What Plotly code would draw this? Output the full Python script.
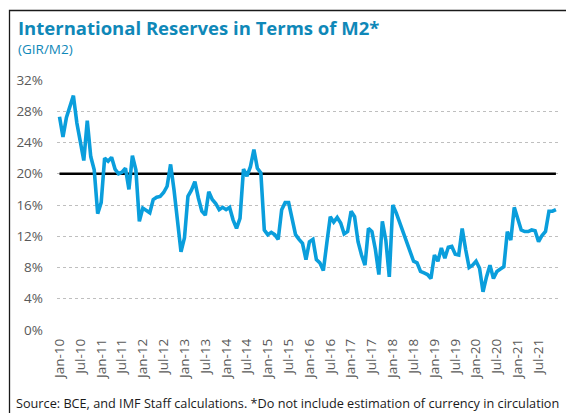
import plotly.graph_objects as go

# Monthly data Jan-2010 .. Dec-2021 (GIR/M2, %)
years = list(range(2010, 2022))
month_names = ["Jan", "Feb", "Mar", "Apr", "May", "Jun", "Jul", "Aug", "Sep", "Oct", "Nov", "Dec"]
gir_m2 = [
    27.3, 24.7, 27.2, 28.8, 30.0, 26.5, 24.2, 21.7, 26.8, 22.2, 20.5, 14.9,
    16.3, 22.0, 21.6, 22.1, 20.6, 20.0, 20.2, 20.7, 18.0, 22.3, 20.5, 13.9,
    15.6, 15.3, 15.0, 16.7, 17.0, 17.1, 17.6, 18.4, 21.2, 17.9, 14.1, 10.0,
    11.8, 17.1, 17.9, 19.0, 16.9, 15.2, 14.7, 17.7, 16.7, 16.2, 15.4, 15.7,
    15.4, 15.7, 14.1, 13.0, 14.3, 20.6, 19.7, 20.9, 23.1, 20.7, 20.1, 12.8,
    12.2, 12.5, 12.2, 11.6, 15.4, 16.3, 16.3, 14.1, 12.2, 11.6, 11.1, 9.0,
    11.3, 11.6, 9.0, 8.6, 7.6, 11.1, 14.5, 13.8, 14.4, 13.7, 12.3, 12.6,
    15.2, 14.5, 11.3, 9.6, 8.3, 13.0, 12.6, 10.3, 7.1, 13.9, 11.5, 6.8,
    16.0, 15.0, 13.7, 12.4, 11.1, 9.8, 8.8, 8.6, 7.5, 7.3, 7.1, 6.6,
    9.6, 8.8, 10.5, 9.2, 10.6, 10.7, 9.7, 9.6, 13.0, 10.3, 8.0, 8.3,
    8.8, 7.9, 4.9, 6.8, 8.3, 6.6, 7.5, 7.8, 8.1, 12.6, 11.5, 15.7,
    14.3, 12.8, 12.6, 12.6, 12.8, 12.7, 11.3, 12.1, 12.6, 15.2, 15.2, 15.4,
]
threshold = [20.0] * len(gir_m2)
y_ticks = [0, 4, 8, 12, 16, 20, 24, 28, 32]

months = [f"{m}-{str(y)[2:]}" for y in years for m in month_names]
x_idx = list(range(len(months)))
tick_idx = [i for i in x_idx if months[i].startswith(("Jan", "Jul"))]
tick_text = [months[i] for i in tick_idx]

BLUE = "#0F88B8"
LINE = "#0A9EDC"
FONT = "Open Sans"

fig = go.Figure()
fig.add_trace(go.Scatter(x=x_idx, y=threshold, mode="lines",
                         line=dict(color="#000000", width=2.4), hoverinfo="skip"))
fig.add_trace(go.Scatter(x=x_idx, y=gir_m2, mode="lines",
                         line=dict(color=LINE, width=3.6)))

L, R, T, B = 57, 8, 80, 83
W, H = 566, 413
pw, ph = W - L - R, H - T - B


def px(x):
    return (x - L) / pw


def py(y):
    return (H - B - y) / ph


fig.update_layout(
    width=W, height=H,
    margin=dict(l=L, r=R, t=T, b=B),
    paper_bgcolor="white", plot_bgcolor="white",
    showlegend=False,
    font=dict(family=FONT, color="#595959", size=12),
    xaxis=dict(range=[-0.72, 143.6], tickmode="array", tickvals=tick_idx, ticktext=tick_text,
               tickangle=-90, showgrid=False, zeroline=False, showline=False, ticks="",
               tickfont=dict(size=13.5, color="#595959", family=FONT), ticklabelstandoff=5),
    yaxis=dict(range=[0, 32], tickmode="array", tickvals=y_ticks,
               ticktext=[f"{v}%" for v in y_ticks],
               showgrid=True, gridcolor="#BFBFBF", griddash="dot", gridwidth=1,
               zeroline=False, showline=False, ticks="",
               tickfont=dict(size=13.5, color="#595959", family=FONT), ticklabelstandoff=13),
    shapes=[dict(type="rect", xref="paper", yref="paper",
                 x0=px(9.5), x1=px(575), y0=py(10.5), y1=py(425),
                 line=dict(color="#1a1a1a", width=1.3), fillcolor="rgba(0,0,0,0)", layer="above")],
    annotations=[
        dict(text="<b>International Reserves in Terms of M2*</b>", xref="paper", yref="paper",
             x=px(16), y=py(27), xanchor="left", yanchor="middle", showarrow=False,
             font=dict(size=18.5, color=BLUE, family=FONT)),
        dict(text="(GIR/M2)", xref="paper", yref="paper",
             x=px(16), y=py(49), xanchor="left", yanchor="middle", showarrow=False,
             font=dict(size=13.5, color=BLUE, family=FONT)),
        dict(text="Source: BCE, and IMF Staff calculations. *Do not include estimation of currency in circulation",
             xref="paper", yref="paper", x=px(14), y=py(403), xanchor="left", yanchor="middle",
             showarrow=False, font=dict(size=12.7, color="#1a1a1a", family=FONT)),
    ],
)

fig.write_html("out.html", config={"displayModeBar": False},
               post_script="document.body.style.margin='0';document.body.style.overflow='hidden';")
